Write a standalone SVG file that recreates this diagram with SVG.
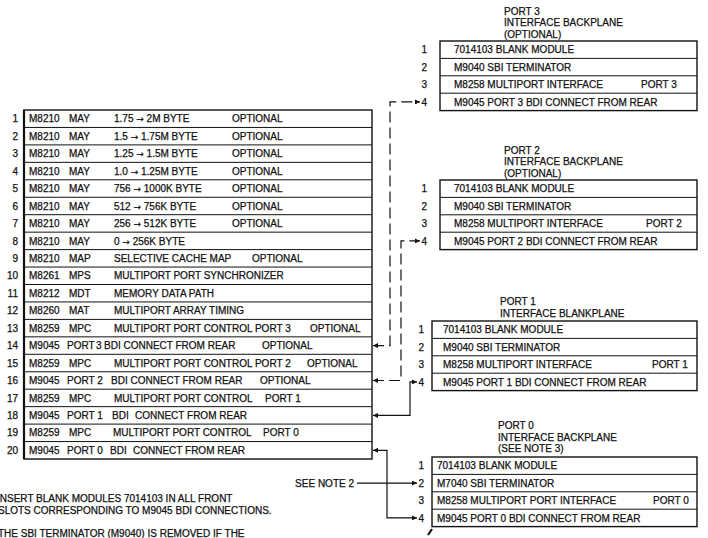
<svg xmlns="http://www.w3.org/2000/svg" width="708" height="538" viewBox="0 0 708 538">
<style>
text{font-family:"Liberation Sans",Arial,sans-serif;font-size:10px;fill:#111;stroke:#111;stroke-width:0.25;}
.n{text-anchor:end;}
.ar{font-family:"DejaVu Sans",sans-serif;font-size:9px;}
.box{fill:#fff;stroke:#111;stroke-width:1.4;}
.ln{stroke:#111;stroke-width:1;}
.lb{stroke:#111;stroke-width:2.2;}
.c{fill:none;stroke:#111;stroke-width:1.2;}
.d{stroke-dasharray:11 5;}
</style>
<defs>
<marker id="ah" viewBox="0 0 10 10" refX="10" refY="5" markerWidth="7" markerHeight="5" orient="auto-start-reverse" markerUnits="userSpaceOnUse"><path d="M0,0 L10,5 L0,10 z" fill="#111"/></marker>
</defs>
<rect width="708" height="538" fill="#fff"/>

<g id="main-backplane">
<rect class="box" x="24" y="110" width="348" height="349"/>
<line class="lb" x1="24" y1="110" x2="24" y2="459"/>
<g class="ln">
<line x1="24" y1="127.45" x2="372" y2="127.45"/><line x1="24" y1="144.9" x2="372" y2="144.9"/>
<line x1="24" y1="162.35" x2="372" y2="162.35"/><line x1="24" y1="179.8" x2="372" y2="179.8"/>
<line x1="24" y1="197.25" x2="372" y2="197.25"/><line x1="24" y1="214.7" x2="372" y2="214.7"/>
<line x1="24" y1="232.15" x2="372" y2="232.15"/><line x1="24" y1="249.6" x2="372" y2="249.6"/>
<line x1="24" y1="267.05" x2="372" y2="267.05"/><line x1="24" y1="284.5" x2="372" y2="284.5"/>
<line x1="24" y1="301.95" x2="372" y2="301.95"/><line x1="24" y1="319.4" x2="372" y2="319.4"/>
<line x1="24" y1="336.85" x2="372" y2="336.85"/><line x1="24" y1="354.3" x2="372" y2="354.3"/>
<line x1="24" y1="371.75" x2="372" y2="371.75"/><line x1="24" y1="389.2" x2="372" y2="389.2"/>
<line x1="24" y1="406.65" x2="372" y2="406.65"/><line x1="24" y1="424.1" x2="372" y2="424.1"/>
<line x1="24" y1="441.55" x2="372" y2="441.55"/>
</g>
<text class="n" x="18" y="122.3">1</text><text x="29" y="122.3">M8210</text><text x="69" y="122.3">MAY</text><text x="114" y="122.3">1.75 <tspan class="ar">→</tspan> 2M BYTE</text><text x="232" y="122.3">OPTIONAL</text>
<text class="n" x="18" y="139.8">2</text><text x="29" y="139.8">M8210</text><text x="69" y="139.8">MAY</text><text x="114" y="139.8">1.5 <tspan class="ar">→</tspan> 1.75M BYTE</text><text x="232" y="139.8">OPTIONAL</text>
<text class="n" x="18" y="157.2">3</text><text x="29" y="157.2">M8210</text><text x="69" y="157.2">MAY</text><text x="114" y="157.2">1.25 <tspan class="ar">→</tspan> 1.5M BYTE</text><text x="232" y="157.2">OPTIONAL</text>
<text class="n" x="18" y="174.7">4</text><text x="29" y="174.7">M8210</text><text x="69" y="174.7">MAY</text><text x="114" y="174.7">1.0 <tspan class="ar">→</tspan> 1.25M BYTE</text><text x="232" y="174.7">OPTIONAL</text>
<text class="n" x="18" y="192.1">5</text><text x="29" y="192.1">M8210</text><text x="69" y="192.1">MAY</text><text x="114" y="192.1">756 <tspan class="ar">→</tspan> 1000K BYTE</text><text x="232" y="192.1">OPTIONAL</text>
<text class="n" x="18" y="209.6">6</text><text x="29" y="209.6">M8210</text><text x="69" y="209.6">MAY</text><text x="114" y="209.6">512 <tspan class="ar">→</tspan> 756K BYTE</text><text x="232" y="209.6">OPTIONAL</text>
<text class="n" x="18" y="227.0">7</text><text x="29" y="227.0">M8210</text><text x="69" y="227.0">MAY</text><text x="114" y="227.0">256 <tspan class="ar">→</tspan> 512K BYTE</text><text x="232" y="227.0">OPTIONAL</text>
<text class="n" x="18" y="244.5">8</text><text x="29" y="244.5">M8210</text><text x="69" y="244.5">MAY</text><text x="114" y="244.5">0 <tspan class="ar">→</tspan> 256K BYTE</text>
<text class="n" x="18" y="261.9">9</text><text x="29" y="261.9">M8210</text><text x="69" y="261.9">MAP</text><text x="114" y="261.9">SELECTIVE CACHE MAP</text><text x="252" y="261.9">OPTIONAL</text>
<text class="n" x="18" y="279.4">10</text><text x="29" y="279.4">M8261</text><text x="69" y="279.4">MPS</text><text x="114" y="279.4">MULTIPORT PORT SYNCHRONIZER</text>
<text class="n" x="18" y="296.8">11</text><text x="29" y="296.8">M8212</text><text x="69" y="296.8">MDT</text><text x="114" y="296.8">MEMORY DATA PATH</text>
<text class="n" x="18" y="314.3">12</text><text x="29" y="314.3">M8260</text><text x="69" y="314.3">MAT</text><text x="114" y="314.3">MULTIPORT ARRAY TIMING</text>
<text class="n" x="18" y="331.7">13</text><text x="29" y="331.7">M8259</text><text x="69" y="331.7">MPC</text><text x="114" y="331.7">MULTIPORT PORT CONTROL PORT 3</text><text x="310" y="331.7">OPTIONAL</text>
<text class="n" x="18" y="349.2">14</text><text x="29" y="349.2">M9045</text><text x="67" y="349.2">PORT</text><text x="96" y="349.2">3</text><text x="104" y="349.2">BDI CONNECT FROM REAR</text><text x="262" y="349.2">OPTIONAL</text>
<text class="n" x="18" y="366.6">15</text><text x="29" y="366.6">M8259</text><text x="69" y="366.6">MPC</text><text x="114" y="366.6">MULTIPORT PORT CONTROL PORT 2</text><text x="307" y="366.6">OPTIONAL</text>
<text class="n" x="18" y="384.1">16</text><text x="29" y="384.1">M9045</text><text x="67" y="384.1">PORT 2</text><text x="111" y="384.1">BDI CONNECT FROM REAR</text><text x="260" y="384.1">OPTIONAL</text>
<text class="n" x="18" y="401.5">17</text><text x="29" y="401.5">M8259</text><text x="69" y="401.5">MPC</text><text x="114" y="401.5">MULTIPORT PORT CONTROL</text><text x="265" y="401.5">PORT 1</text>
<text class="n" x="18" y="419.0">18</text><text x="29" y="419.0">M9045</text><text x="67" y="419.0">PORT 1</text><text x="112" y="419.0">BDI</text><text x="135" y="419.0">CONNECT FROM REAR</text>
<text class="n" x="18" y="436.4">19</text><text x="29" y="436.4">M8259</text><text x="69" y="436.4">MPC</text><text x="113" y="436.4">MULTIPORT PORT CONTROL</text><text x="263" y="436.4">PORT 0</text>
<text class="n" x="18" y="453.9">20</text><text x="29" y="453.9">M9045</text><text x="67" y="453.9">PORT 0</text><text x="110" y="453.9">BDI</text><text x="133" y="453.9">CONNECT FROM REAR</text>
</g>

<g id="port3">
<text x="504" y="14.5">PORT 3</text><text x="504" y="26">INTERFACE BACKPLANE</text><text x="504" y="37.5">(OPTIONAL)</text>
<rect class="box" x="440" y="41" width="257" height="69.6"/>
<line class="ln" x1="440" y1="58.4" x2="697" y2="58.4"/><line class="ln" x1="440" y1="75.8" x2="697" y2="75.8"/><line class="ln" x1="440" y1="93.2" x2="697" y2="93.2"/>
<text class="n" x="427" y="53.3">1</text><text x="454" y="53.3">7014103 BLANK MODULE</text>
<text class="n" x="427" y="70.7">2</text><text x="454" y="70.7">M9040 SBI TERMINATOR</text>
<text class="n" x="427" y="88.1">3</text><text x="454" y="88.1">M8258 MULTIPORT INTERFACE</text><text x="641" y="88.1">PORT 3</text>
<text class="n" x="427" y="105.5">4</text><text x="454" y="105.5">M9045 PORT 3 BDI CONNECT FROM REAR</text>
</g>

<g id="port2">
<text x="504" y="153.5">PORT 2</text><text x="504" y="165">INTERFACE BACKPLANE</text><text x="504" y="176.5">(OPTIONAL)</text>
<rect class="box" x="440" y="180" width="257" height="69.6"/>
<line class="ln" x1="440" y1="197.4" x2="697" y2="197.4"/><line class="ln" x1="440" y1="214.8" x2="697" y2="214.8"/><line class="ln" x1="440" y1="232.2" x2="697" y2="232.2"/>
<text class="n" x="427" y="192.3">1</text><text x="454" y="192.3">7014103 BLANK MODULE</text>
<text class="n" x="427" y="209.7">2</text><text x="454" y="209.7">M9040 SBI TERMINATOR</text>
<text class="n" x="427" y="227.1">3</text><text x="454" y="227.1">M8258 MULTIPORT INTERFACE</text><text x="646" y="227.1">PORT 2</text>
<text class="n" x="427" y="244.5">4</text><text x="454" y="244.5">M9045 PORT 2 BDI CONNECT FROM REAR</text>
</g>

<g id="port1">
<text x="500" y="305">PORT 1</text><text x="500" y="316.5">INTERFACE BLANKPLANE</text>
<rect class="box" x="432" y="321" width="265" height="69.6"/>
<line class="ln" x1="432" y1="338.4" x2="697" y2="338.4"/><line class="ln" x1="432" y1="355.8" x2="697" y2="355.8"/><line class="ln" x1="432" y1="373.2" x2="697" y2="373.2"/>
<text class="n" x="424" y="333.3">1</text><text x="443" y="333.3">7014103 BLANK MODULE</text>
<text class="n" x="424" y="350.7">2</text><text x="443" y="350.7">M9040 SBI TERMINATOR</text>
<text class="n" x="424" y="368.1">3</text><text x="443" y="368.1">M8258 MULTIPORT INTERFACE</text><text x="652" y="368.1">PORT 1</text>
<text class="n" x="424" y="385.5">4</text><text x="443" y="385.5">M9045 PORT 1 BDI CONNECT FROM REAR</text>
</g>

<g id="port0">
<text x="498" y="429">PORT 0</text><text x="498" y="440.5">INTERFACE BACKPLANE</text><text x="498" y="452">(SEE NOTE 3)</text>
<rect class="box" x="432" y="457" width="265" height="69.6"/>
<line class="ln" x1="432" y1="474.4" x2="697" y2="474.4"/><line class="ln" x1="432" y1="491.8" x2="697" y2="491.8"/><line class="ln" x1="432" y1="509.2" x2="697" y2="509.2"/>
<text class="n" x="424" y="469.3">1</text><text x="437" y="469.3">7014103 BLANK MODULE</text>
<text class="n" x="424" y="486.7">2</text><text x="437" y="486.7">M7040 SBI TERMINATOR</text>
<text class="n" x="424" y="504.1">3</text><text x="437" y="504.1">M8258 MULTIPORT PORT INTERFACE</text><text x="653" y="504.1">PORT 0</text>
<text class="n" x="424" y="521.5">4</text><text x="437" y="521.5">M9045 PORT 0 BDI CONNECT FROM REAR</text>
</g>

<g id="connectors">
<polyline class="c d" points="373,345.6 390,345.6 390,101.9 420,101.9" marker-start="url(#ah)" marker-end="url(#ah)"/>
<polyline class="c d" points="373,380.5 401,380.5 401,240.9 420,240.9" marker-start="url(#ah)" marker-end="url(#ah)"/>
<polyline class="c" points="373,415.4 410,415.4 410,381.9 417,381.9" marker-start="url(#ah)" marker-end="url(#ah)"/>
<polyline class="c" points="373,450.3 387,450.3 387,517.9 417,517.9" marker-start="url(#ah)" marker-end="url(#ah)"/>
<line class="c" x1="357" y1="483.1" x2="417" y2="483.1" marker-end="url(#ah)"/>
</g>

<g id="notes">
<text x="354" y="486.7" class="n">SEE NOTE 2</text>
<text x="-3" y="502">INSERT BLANK MODULES 7014103 IN ALL FRONT</text>
<text x="-2" y="513.5">SLOTS CORRESPONDING TO M9045 BDI CONNECTIONS.</text>
<text x="-2" y="537">THE SBI TERMINATOR (M9040) IS REMOVED IF THE</text>
<line x1="428" y1="535" x2="432" y2="529" stroke="#111" stroke-width="2.2"/>
</g>
</svg>
